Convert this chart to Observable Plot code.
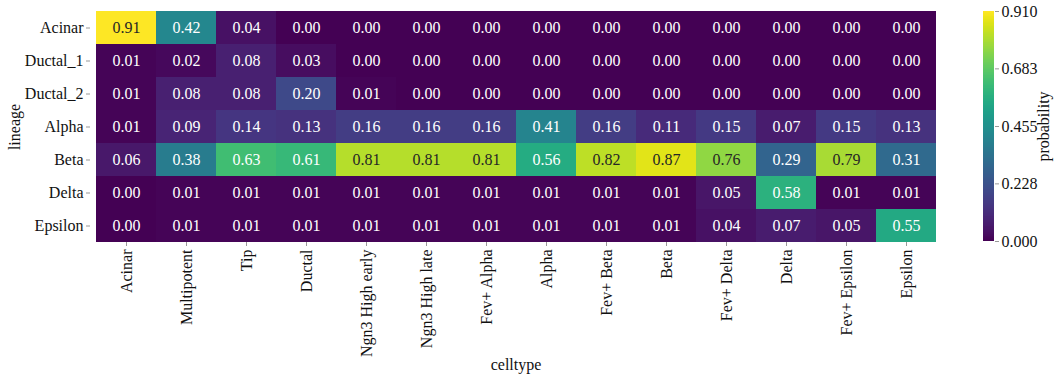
<!DOCTYPE html>
<html><head><meta charset="utf-8">
<script src="https://cdn.jsdelivr.net/npm/d3@7"></script>
<script src="https://cdn.jsdelivr.net/npm/@observablehq/plot@0.6"></script>
<style>
html,body{margin:0;padding:0;background:#fff;}
#wrap{position:relative;width:1056px;height:377px;font-family:"Liberation Serif",serif;}
#wrap svg{position:absolute;top:0;}
</style></head>
<body><div id="wrap"></div>
<script>
const lineages = ["Acinar","Ductal_1","Ductal_2","Alpha","Beta","Delta","Epsilon"];
const celltypes = ["Acinar","Multipotent","Tip","Ductal","Ngn3 High early","Ngn3 High late","Fev+ Alpha","Alpha","Fev+ Beta","Beta","Fev+ Delta","Delta","Fev+ Epsilon","Epsilon"];
const acinar   = [0.91,0.42,0.04,0.00,0.00,0.00,0.00,0.00,0.00,0.00,0.00,0.00,0.00,0.00];
const ductal1  = [0.01,0.02,0.08,0.03,0.00,0.00,0.00,0.00,0.00,0.00,0.00,0.00,0.00,0.00];
const ductal2  = [0.01,0.08,0.08,0.20,0.01,0.00,0.00,0.00,0.00,0.00,0.00,0.00,0.00,0.00];
const alpha    = [0.01,0.09,0.14,0.13,0.16,0.16,0.16,0.41,0.16,0.11,0.15,0.07,0.15,0.13];
const beta     = [0.06,0.38,0.63,0.61,0.81,0.81,0.81,0.56,0.82,0.87,0.76,0.29,0.79,0.31];
const delta    = [0.00,0.01,0.01,0.01,0.01,0.01,0.01,0.01,0.01,0.01,0.05,0.58,0.01,0.01];
const epsilon  = [0.00,0.01,0.01,0.01,0.01,0.01,0.01,0.01,0.01,0.01,0.04,0.07,0.05,0.55];
const colorTicks = [0, 0.228, 0.455, 0.683, 0.910];
const vmax = 0.91;

const rows = [acinar, ductal1, ductal2, alpha, beta, delta, epsilon];
const data = [];
rows.forEach((vals, i) => vals.forEach((v, j) => data.push({lineage: lineages[i], celltype: celltypes[j], p: v})));

const FF = "Liberation Serif";
const font = {fontFamily: FF, fontSize: "16px"};

const main = Plot.plot({
  width: 1056, height: 377,
  marginLeft: 90, marginRight: 115, marginTop: 11, marginBottom: 135,
  style: {...font, background: "transparent", overflow: "visible"},
  x: {domain: celltypes, padding: 0},
  y: {domain: lineages, padding: 0},
  color: {type: "linear", scheme: "viridis", domain: [0, vmax]},
  marks: [
    Plot.cell(data, {x: "celltype", y: "lineage", fill: "p", inset: 0}),
    Plot.text(data, {x: "celltype", y: "lineage", text: d => d.p.toFixed(2),
      fill: d => d.p >= 0.7 ? "#262626" : "#ffffff", fontSize: 16, fontFamily: FF}),
    Plot.axisX({tickRotate: -90, tickSize: 4, tickPadding: 3, stroke: "#999", fill: "#111", fontSize: 16, fontFamily: FF,
      label: "celltype", labelAnchor: "center", labelArrow: "none", labelOffset: 127}),
    Plot.axisY({tickSize: 4, tickPadding: 3, stroke: "#999", fill: "#111", fontSize: 16, fontFamily: FF,
      label: "lineage", labelAnchor: "center", labelArrow: "none", labelOffset: 82})
  ]
});
main.style.left = "0px";
document.getElementById("wrap").appendChild(main);

const steps = d3.range(0, 300).map(i => ({y1: vmax * i / 300, y2: vmax * (i + 1) / 300}));
const bar = Plot.plot({
  width: 96, height: 377,
  marginLeft: 23, marginRight: 62, marginTop: 11, marginBottom: 136,
  style: {...font, background: "transparent", overflow: "visible"},
  x: {domain: [0, 1], axis: null},
  y: {domain: [0, vmax]},
  color: {type: "linear", scheme: "viridis", domain: [0, vmax]},
  marks: [
    Plot.rect(steps, {x1: 0, x2: 1, y1: "y1", y2: "y2", fill: d => (d.y1 + d.y2) / 2, shapeRendering: "crispEdges"}),
    Plot.axisY({anchor: "right", ticks: colorTicks, tickFormat: d3.format(".3f"), tickSize: 4, tickPadding: 3,
      stroke: "#999", fill: "#111", fontSize: 16, fontFamily: FF,
      label: "probability", labelAnchor: "center", labelArrow: "none", labelOffset: 54})
  ]
});
bar.style.left = "960px";
document.getElementById("wrap").appendChild(bar);
</script></body></html>
